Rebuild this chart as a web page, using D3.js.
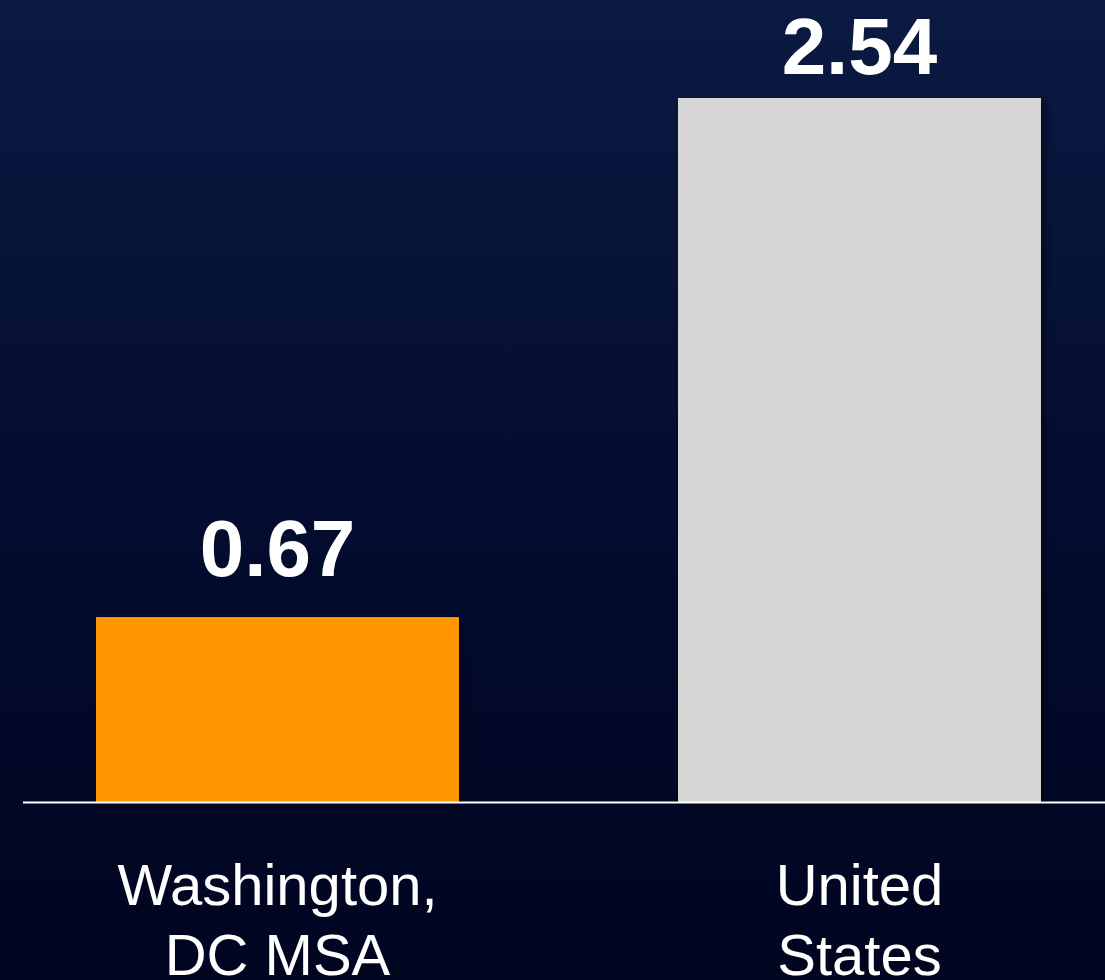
<!DOCTYPE html>
<html>
<head>
<meta charset="utf-8">
<script src="https://cdn.jsdelivr.net/npm/d3@7"></script>
<style>
  html, body { margin: 0; padding: 0; background: #000520; overflow: hidden; }
  svg { display: block; font-family: "Liberation Sans", Helvetica, Arial, sans-serif; }
</style>
</head>
<body>
<div id="chart"></div>
<script>
// chart data
const categories = ["Washington, DC MSA", "United States"];
const labelLines = [["Washington,", "DC MSA"], ["United", "States"]];
const values = [0.67, 2.54];
const barColors = ["#ff9500", "#d6d6d6"];

const width = 1105, height = 980;
const baselineY = 803, topY = 98;

const svg = d3.select("#chart").append("svg")
    .attr("width", width)
    .attr("height", height)
    .attr("viewBox", [0, 0, width, height]);

const defs = svg.append("defs");
const grad = defs.append("linearGradient")
    .attr("id", "bg")
    .attr("x1", 0).attr("y1", 0).attr("x2", 0).attr("y2", 1);
grad.append("stop").attr("offset", "0%").attr("stop-color", "#0b1a42");
grad.append("stop").attr("offset", "50%").attr("stop-color", "#040d30");
grad.append("stop").attr("offset", "100%").attr("stop-color", "#000520");

const shadow = defs.append("filter")
    .attr("id", "shadow")
    .attr("x", "-10%").attr("y", "-10%")
    .attr("width", "130%").attr("height", "130%");
shadow.append("feDropShadow")
    .attr("dx", 4).attr("dy", 3)
    .attr("stdDeviation", 4)
    .attr("flood-color", "#000")
    .attr("flood-opacity", 0.5);

svg.append("rect")
    .attr("width", width)
    .attr("height", height)
    .attr("fill", "url(#bg)");

const x = d3.scaleBand()
    .domain(categories)
    .range([0, 1137])
    .paddingInner(0.3763)
    .paddingOuter(0.165);

const y = d3.scaleLinear()
    .domain([0, d3.max(values)])
    .range([baselineY, topY]);

// bars
svg.append("g")
  .selectAll("rect")
  .data(values)
  .join("rect")
    .attr("x", (d, i) => x(categories[i]))
    .attr("y", d => y(d))
    .attr("width", x.bandwidth())
    .attr("height", d => y(0) - y(d))
    .attr("fill", (d, i) => barColors[i])
    .attr("filter", "url(#shadow)");

// baseline
svg.append("line")
    .attr("x1", 23)
    .attr("x2", width)
    .attr("y1", y(0) - 0.5)
    .attr("y2", y(0) - 0.5)
    .attr("stroke", "#ffffff")
    .attr("stroke-width", 2);

// value labels (kept inside the top of the slide)
svg.append("g")
  .selectAll("text")
  .data(values)
  .join("text")
    .attr("x", (d, i) => x(categories[i]) + x.bandwidth() / 2)
    .attr("y", d => Math.max(y(d) - 41, 74))
    .attr("text-anchor", "middle")
    .attr("fill", "#ffffff")
    .attr("font-size", 80)
    .attr("font-weight", "bold")
    .text(d => d3.format(".2f")(d));

// category labels
const cat = svg.append("g")
  .selectAll("text")
  .data(categories)
  .join("text")
    .attr("x", d => x(d) + x.bandwidth() / 2)
    .attr("y", 905)
    .attr("text-anchor", "middle")
    .attr("fill", "#ffffff")
    .attr("font-size", 58);

cat.selectAll("tspan")
  .data((d, i) => labelLines[i])
  .join("tspan")
    .attr("x", function() { return d3.select(this.parentNode).attr("x"); })
    .attr("dy", (d, i) => i === 0 ? 0 : 70)
    .text(d => d);
</script>
</body>
</html>
